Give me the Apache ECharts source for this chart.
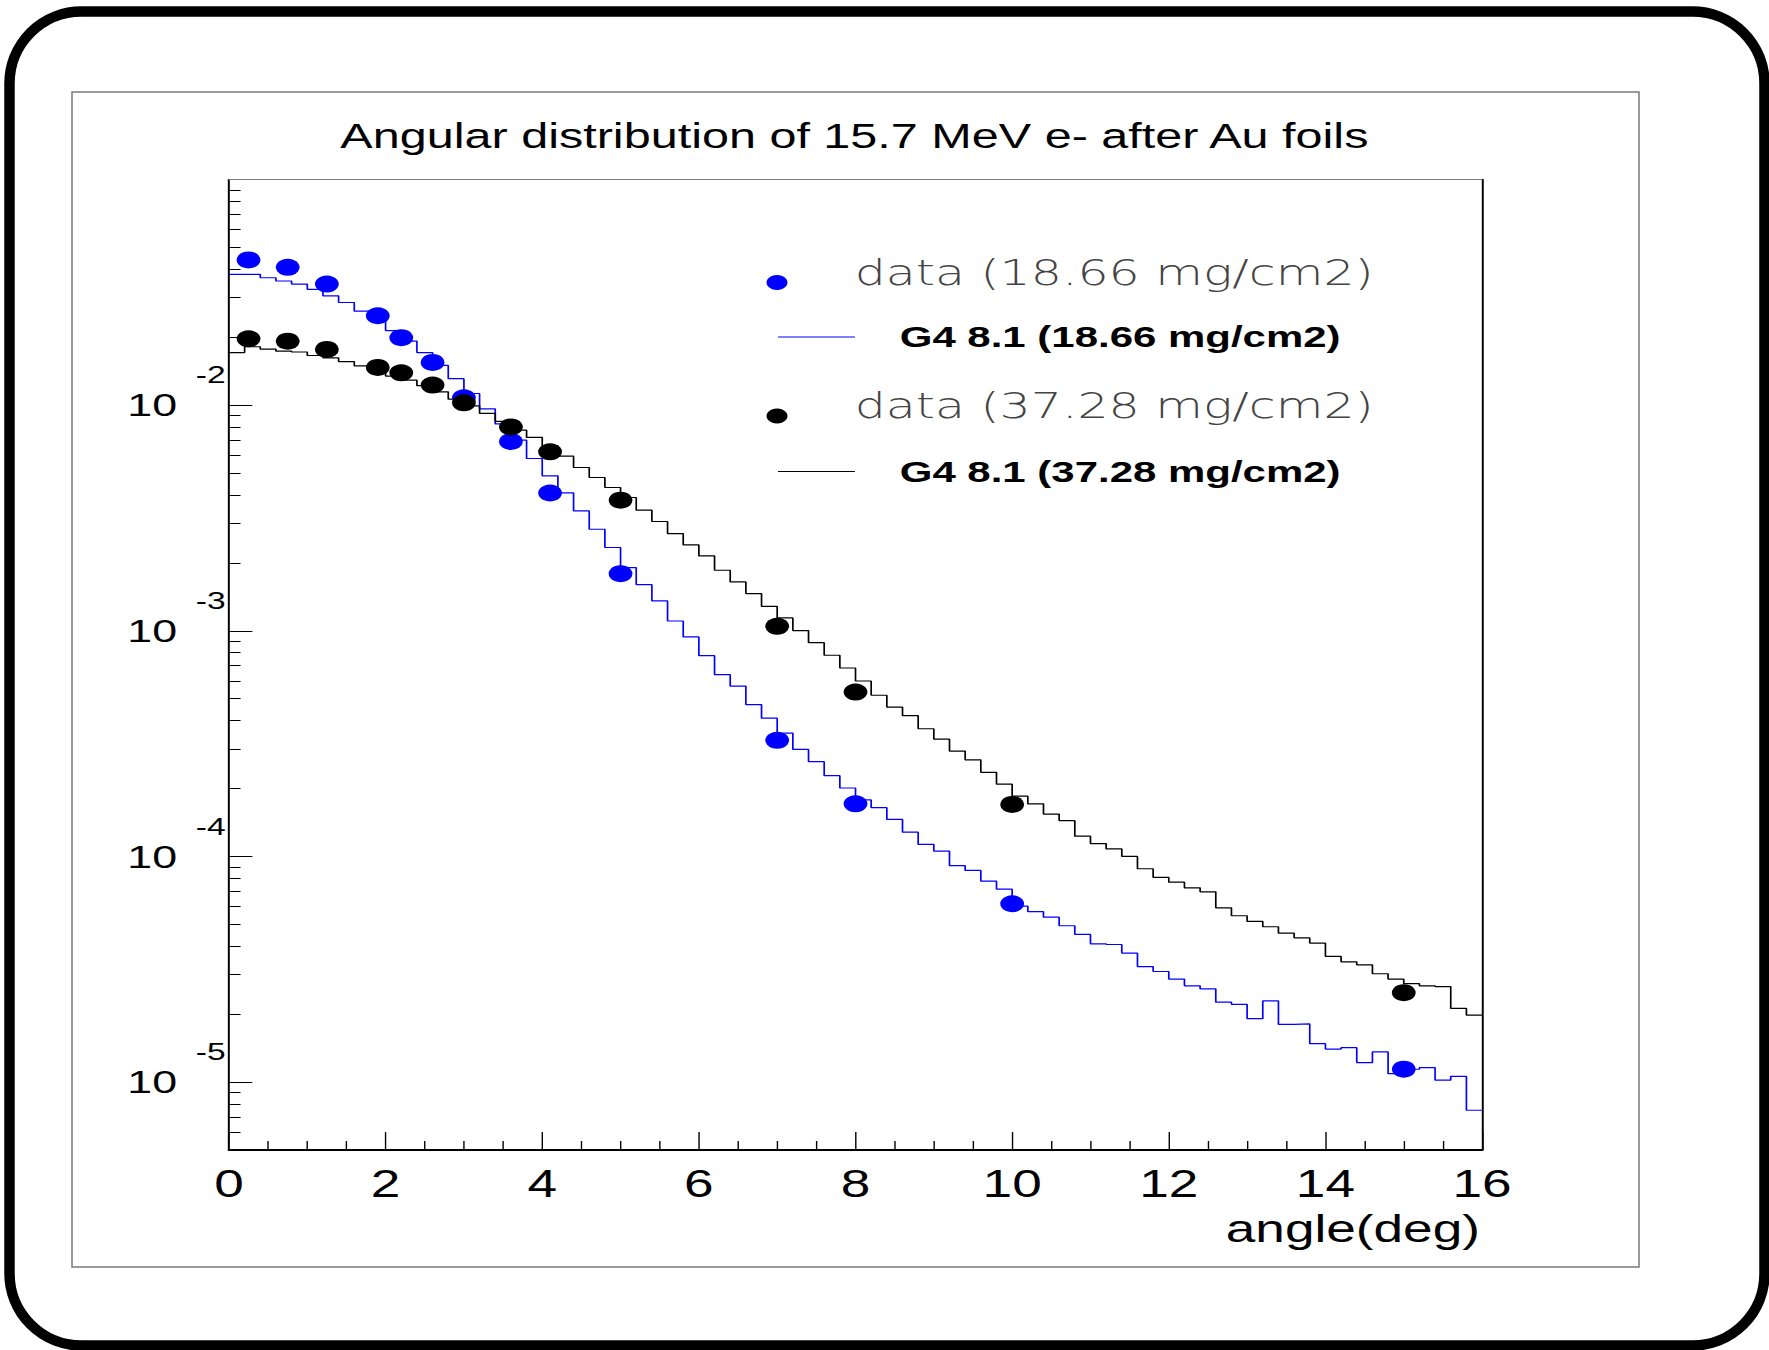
<!DOCTYPE html>
<html>
<head>
<meta charset="utf-8">
<title>Angular distribution of 15.7 MeV e- after Au foils</title>
<script src="https://cdn.jsdelivr.net/npm/echarts@6/dist/echarts.min.js"></script>
<style>
  html, body { margin: 0; padding: 0; background: #fff; }
  #page { position: relative; width: 1769px; height: 1350px; overflow: hidden; }
  #frame { position: absolute; left: 0; top: 0; width: 1769px; height: 1350px; }
  /* the original ROOT picture is stretched sideways, so draw narrow and widen it */
  #chart { position: absolute; left: 0; top: 0; width: 1264px; height: 1350px;
           transform: scaleX(1.3995); transform-origin: 0 0; }
</style>
</head>
<body>
<div id="page">
  <div id="frame"></div>
  <div id="chart"></div>
</div>
<script>
// measured data points (angle in deg)
const dataAngles = [0.25, 0.75, 1.25, 1.9, 2.2, 2.6, 3.0, 3.6, 4.1, 5, 7, 8, 10, 15];
const dataThin = [0.0440, 0.0408, 0.0344, 0.0249, 0.0199, 0.01546, 0.01078, 0.0069, 0.00408,
                  0.00179, 3.27e-4, 1.71e-4, 6.17e-5, 1.14e-5];
const dataThick = [0.01968, 0.01921, 0.01766, 0.0147, 0.0139, 0.01227, 0.01024, 0.00801, 0.00621,
                   0.00379, 1.047e-3, 5.35e-4, 1.70e-4, 2.49e-5];

// G4 8.1 histograms, 80 bins of 0.2 deg from 0 to 16
const binWidth = 0.2;
const g4Thin = [
  0.0380, 0.0380, 0.0367, 0.0355, 0.0344, 0.0326, 0.0305, 0.0285, 0.0261, 0.0242,
  0.0214, 0.0192, 0.0171, 0.0150, 0.0131, 0.01126, 0.00963, 0.00826, 0.00700, 0.00580,
  0.00486, 0.004085, 0.003399, 0.002818, 0.002339, 0.001907, 0.001603, 0.001356, 0.001105, 0.000939,
  7.76e-4, 6.39e-4, 5.69e-4, 4.71e-4, 4.10e-4, 3.52e-4, 2.98e-4, 2.63e-4, 2.28e-4, 2.01e-4,
  1.78e-4, 1.644e-4, 1.459e-4, 1.281e-4, 1.130e-4, 1.056e-4, 9.10e-5, 8.67e-5, 7.77e-5, 7.16e-5,
  6.02e-5, 5.69e-5, 5.38e-5, 4.93e-5, 4.51e-5, 4.10e-5, 4.07e-5, 3.73e-5, 3.25e-5, 3.09e-5,
  2.86e-5, 2.67e-5, 2.59e-5, 2.26e-5, 2.21e-5, 1.91e-5, 2.29e-5, 1.80e-5, 1.81e-5, 1.48e-5,
  1.40e-5, 1.42e-5, 1.22e-5, 1.36e-5, 1.09e-5, 1.14e-5, 1.16e-5, 1.02e-5, 1.06e-5, 7.50e-6
];
const g4Thick = [
  0.0171, 0.01815, 0.0177, 0.01735, 0.0172, 0.0166, 0.0162, 0.0156, 0.01493, 0.01429,
  0.01345, 0.0129, 0.0122, 0.01146, 0.01063, 0.00993, 0.00919, 0.00847, 0.00775, 0.00719,
  0.0066, 0.005939, 0.005293, 0.004778, 0.004315, 0.003897, 0.003423, 0.003050, 0.002698, 0.002402,
  0.002147, 0.001855, 0.001646, 0.001462, 0.001284, 0.001140, 0.001002, 8.86e-4, 7.79e-4, 6.84e-4,
  5.99e-4, 5.18e-4, 4.59e-4, 4.21e-4, 3.68e-4, 3.31e-4, 2.93e-4, 2.68e-4, 2.36e-4, 2.09e-4,
  1.85e-4, 1.71e-4, 1.54e-4, 1.44e-4, 1.23e-4, 1.14e-4, 1.08e-4, 1.00e-4, 8.82e-5, 8.07e-5,
  7.69e-5, 7.26e-5, 6.97e-5, 5.92e-5, 5.46e-5, 5.15e-5, 4.88e-5, 4.57e-5, 4.36e-5, 4.13e-5,
  3.61e-5, 3.41e-5, 3.31e-5, 3.02e-5, 2.86e-5, 2.73e-5, 2.67e-5, 2.65e-5, 2.12e-5, 1.98e-5
];

// axes
const xMin = 0, xMax = 16, xStep = 2;
const yMin = 5e-6, yMax = 0.1;
const yMajor = [1e-5, 1e-4, 1e-3, 1e-2];
const yExp = ['-5', '-4', '-3', '-2'];
const yMinor = [];
[1e-6, 1e-5, 1e-4, 1e-3, 1e-2].forEach(d => {
  [2, 3, 4, 5, 6, 7, 8, 9].forEach(m => {
    const v = d * m;
    if (v > yMin && v < yMax) yMinor.push(v);
  });
});

const names = ['data (18.66 mg/cm2)', 'G4 8.1 (18.66 mg/cm2)', 'data (37.28 mg/cm2)', 'G4 8.1 (37.28 mg/cm2)'];
const BLUE = '#0000ff';
const FONT = "'Liberation Sans', Arial, sans-serif";
const THIN_FONT = "'DejaVu Sans ExtraLight', 'DejaVu Sans', sans-serif";

function histData(vals) {
  // left bin edges, plus closing point at the right edge
  const pts = vals.map((v, i) => [+(i * binWidth).toFixed(1), v]);
  pts.push([xMax, vals[vals.length - 1]]);
  return pts;
}
function pointData(vals) {
  return dataAngles.map((a, i) => [a, vals[i]]);
}

// outer frame (not stretched)
const frame = echarts.init(document.getElementById('frame'), null, {renderer: 'svg'});
frame.setOption({
  animation: false,
  graphic: [
    {type: 'rect', shape: {x: 9.5, y: 11.5, width: 1755, height: 1334, r: 72},
     style: {fill: 'none', stroke: '#000', lineWidth: 10.5}},
    {type: 'rect', shape: {x: 72, y: 92, width: 1567, height: 1175},
     style: {fill: 'none', stroke: '#7a7a7a', lineWidth: 1.5}}
  ]
});

const chart = echarts.init(document.getElementById('chart'), null, {renderer: 'svg'});
const option = {
  animation: false,
  title: {
    text: 'Angular distribution of 15.7 MeV e- after Au foils',
    left: 610.5,
    textAlign: 'center',
    top: 119,
    padding: 0,
    textStyle: {fontFamily: FONT, fontSize: 34.7, fontWeight: 'normal', color: '#000'}
  },
  grid: {left: 163.6, right: 205, top: 179.5, bottom: 200, outerBoundsMode: 'none'},
  legend: [
    {
      data: [names[0], names[2]],
      orient: 'vertical',
      left: 547.7, top: 255, padding: 0,
      itemWidth: 15, itemHeight: 15, itemGap: 78.4,
      selectedMode: false,
      // text sits a little above its marker
      formatter: '{t|{name}}',
      textStyle: {
        padding: [0, 0, 0, 43],
        rich: {
          t: {fontFamily: THIN_FONT, fontWeight: 200, fontSize: 35, color: '#444',
              lineHeight: 40, padding: [0, 0, 20, 0]}
        }
      }
    },
    {
      data: [{name: names[1], icon: 'rect'}, {name: names[3], icon: 'rect'}],
      orient: 'vertical',
      left: 555.9, top: 317, padding: 0,
      itemWidth: 55, itemHeight: 1.2, itemGap: 94.5,
      selectedMode: false,
      textStyle: {fontFamily: FONT, fontWeight: 'bold', fontSize: 30,
                  color: '#000', lineHeight: 40, padding: [0, 0, 0, 27]}
    }
  ],
  xAxis: [
    {
      type: 'value', min: xMin, max: xMax, interval: xStep,
      axisLine: {lineStyle: {color: '#000', width: 1.8}},
      axisTick: {inside: true, length: 18, lineStyle: {color: '#000', width: 1}},
      minorTick: {show: true, splitNumber: 4, length: 9, lineStyle: {color: '#000', width: 1}},
      axisLabel: {fontFamily: FONT, fontSize: 38, color: '#000', margin: 15},
      splitLine: {show: false},
      name: 'angle(deg)',
      nameLocation: 'end',
      nameGap: -1.5,
      nameMoveOverlap: false,
      nameTextStyle: {fontFamily: FONT, fontSize: 38, color: '#000', align: 'right',
                      verticalAlign: 'top', padding: [60, 0, 0, 0]}
    },
    {
      type: 'value', min: xMin, max: xMax, position: 'top',
      axisLine: {lineStyle: {color: '#7a7a7a', width: 1}},
      axisTick: {show: false}, axisLabel: {show: false}, splitLine: {show: false}
    }
  ],
  yAxis: [
    {
      type: 'log', logBase: 10, min: yMin, max: yMax, position: 'left',
      axisLine: {show: true, lineStyle: {color: '#000', width: 1.4}},
      axisTick: {inside: true, length: 16.7, customValues: yMajor, lineStyle: {color: '#000', width: 1}},
      axisLabel: {customValues: yMajor, formatter: () => '10', fontFamily: FONT,
                  fontSize: 32, color: '#000', margin: 37},
      splitLine: {show: false}
    },
    {
      type: 'log', logBase: 10, min: yMin, max: yMax, position: 'left',
      axisLine: {show: false},
      axisTick: {inside: true, length: 8.3, customValues: yMinor, lineStyle: {color: '#000', width: 1}},
      axisLabel: {customValues: yMajor,
                  formatter: v => yExp[yMajor.findIndex(m => Math.abs(m - v) / m < 1e-6)],
                  fontFamily: FONT, fontSize: 24, color: '#000', margin: 2.4,
                  lineHeight: 60, verticalAlign: 'bottom'},
      splitLine: {show: false}
    },
    {
      type: 'log', logBase: 10, min: yMin, max: yMax, position: 'right',
      axisLine: {show: true, lineStyle: {color: '#000', width: 1.4}},
      axisTick: {show: false}, axisLabel: {show: false}, splitLine: {show: false}
    }
  ],
  series: [
    {
      name: names[1], type: 'line', step: 'end', data: histData(g4Thin),
      symbol: 'none', showSymbol: false, z: 2,
      lineStyle: {color: BLUE, width: 1.2}, itemStyle: {color: BLUE}
    },
    {
      name: names[3], type: 'line', step: 'end', data: histData(g4Thick),
      symbol: 'none', showSymbol: false, z: 2,
      lineStyle: {color: '#000', width: 1.2}, itemStyle: {color: '#000'}
    },
    {
      name: names[0], type: 'scatter', data: pointData(dataThin),
      symbol: 'circle', symbolSize: 17, z: 3,
      itemStyle: {color: BLUE, opacity: 1}
    },
    {
      name: names[2], type: 'scatter', data: pointData(dataThick),
      symbol: 'circle', symbolSize: 17, z: 4,
      itemStyle: {color: '#000', opacity: 1}
    }
  ]
};
chart.setOption(option);
</script>
</body>
</html>
